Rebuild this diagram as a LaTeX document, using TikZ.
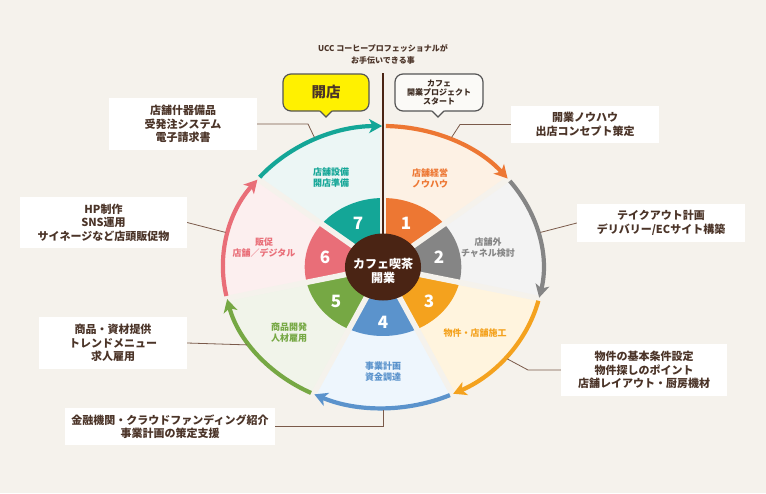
\documentclass[tikz,border=0pt]{standalone}
\usepackage{fontspec}
\setmainfont{Noto Sans CJK JP}
\usetikzlibrary{arrows.meta}
\definecolor{bg}{HTML}{F5F2EC}
\definecolor{txt}{HTML}{4B3428}
\definecolor{conn}{HTML}{7A5A4A}
\definecolor{cbrown}{HTML}{4A2414}
\definecolor{c1}{HTML}{ED7733}
\definecolor{c2}{HTML}{858585}
\definecolor{c3}{HTML}{F4A21E}
\definecolor{c4}{HTML}{5B93CC}
\definecolor{c5}{HTML}{76A844}
\definecolor{c6}{HTML}{E96E78}
\definecolor{c7}{HTML}{14A697}
\definecolor{l1}{HTML}{FDF1E4}
\definecolor{l2}{HTML}{F3F3F3}
\definecolor{l3}{HTML}{FFF4DE}
\definecolor{l4}{HTML}{EEF6FD}
\definecolor{l5}{HTML}{F1F4EA}
\definecolor{l6}{HTML}{FCEFEF}
\definecolor{l7}{HTML}{ECF6F5}
\definecolor{bubyel}{HTML}{FFF100}
\definecolor{bubline}{HTML}{555555}
\tikzset{
  box/.style={fill=white, inner sep=0pt, align=center, text=txt,
    font=\bfseries\fontsize{11}{13.5}\selectfont},
  wlabel/.style={align=center, font=\bfseries\fontsize{9}{11}\selectfont},
  numlabel/.style={text=white, font=\bfseries\fontsize{17}{17}\selectfont},
  connline/.style={draw=conn, line width=0.8pt},
  bubbleline/.style={draw=bubline, line width=1.2pt},
}
\begin{document}
\begin{tikzpicture}[x=1pt,y=-1pt]
\fill[bg] (0,0) rectangle (766,493);
\useasboundingbox (0,0) rectangle (766,493);

% wheel
\begin{scope}[shift={(383,267)}, x=1.135pt, y=1pt]
  \foreach \i/\lc/\dc in {1/l1/c1,2/l2/c2,3/l3/c3,4/l4/c4,5/l5/c5,6/l6/c6,7/l7/c7}{
    \pgfmathsetmacro\as{90-(\i-1)*360/7}
    \pgfmathsetmacro\ae{90-\i*360/7}
    \fill[\lc] (0,0) -- (\as:141) arc[start angle=\as, end angle=\ae, radius=141] -- cycle;
    \fill[\dc] (0,0) -- (\as:69) arc[start angle=\as, end angle=\ae, radius=69] -- cycle;
  }
  \foreach \k in {0,...,6}{
    \pgfmathsetmacro\ag{90-\k*360/7}
    \draw[bg, line width=5.5pt] (0,0) -- (\ag:141);
  }
  \foreach \i/\dc in {1/c1,2/c2,3/c3,4/c4,5/c5,6/c6,7/c7}{
    \pgfmathsetmacro\as{90-(\i-1)*360/7-1}
    \pgfmathsetmacro\ae{90-\i*360/7+0.3}
    \draw[\dc, line width=4.2pt, -{Stealth[length=13pt,width=14pt,inset=3.5pt]}]
      (\as:141) arc[start angle=\as, end angle=\ae, radius=141];
  }
  \coordinate (k7) at (115:143);
  \coordinate (k6) at (166:143);
  \coordinate (k5) at (-147:143);
  \coordinate (k4) at (-90:143);
  \coordinate (k1) at (65:143);
  \coordinate (k2) at (14:143);
  \coordinate (k3) at (-40:143);
\end{scope}

\coordinate (ltop) at (383,73);
\coordinate (lbot) at (383,250);
\draw[cbrown, line width=2pt] (ltop) -- (lbot);

\begin{scope}[shift={(383,267)}, x=1.135pt, y=1pt]
  \fill[cbrown] (0,0) circle[radius=33.5];
\end{scope}
\node[text=white, align=center, font=\bfseries\fontsize{12}{13.5}\selectfont] (ctr) at (383,271) {カフェ喫茶\\開業};

% numbers
\node[numlabel] (n1) at (406,223) {1};
\node[numlabel] (n2) at (439,257) {2};
\node[numlabel] (n3) at (429,301) {3};
\node[numlabel] (n4) at (383,322) {4};
\node[numlabel] (n5) at (336,301) {5};
\node[numlabel] (n6) at (325,257) {6};
\node[numlabel] (n7) at (358,223) {7};

% wedge labels
\node[wlabel, text=c1] (w1) at (430,178) {店舗経営\\ノウハウ};
\node[wlabel, text=c2] (w2) at (488,248) {店舗外\\チャネル検討};
\node[wlabel, text=c3] (w3) at (475,333) {物件・店舗施工};
\node[wlabel, text=c4] (w4) at (383,372) {事業計画\\資金調達};
\node[wlabel, text=c5] (w5) at (289,333) {商品開発\\人材雇用};
\node[wlabel, text=c6] (w6) at (264,248) {販促\\店舗／デジタル};
\node[wlabel, text=c7] (w7) at (331,178) {店舗設備\\開店準備};

% boxes
\node[box, minimum width=148pt, minimum height=52pt] (b1) at (183,124) {店舗什器備品\\受発注システム\\電子請求書};
\node[box, minimum width=167pt, minimum height=51pt] (b2) at (103.5,222.5) {HP制作\\SNS運用\\サイネージなど店頭販促物};
\node[box, minimum width=148pt, minimum height=52pt] (b3) at (113,343) {商品・資材提供\\トレンドメニュー\\求人雇用};
\node[box, minimum width=210pt, minimum height=37pt] (b4) at (170,426.5) {金融機関・クラウドファンディング紹介\\事業計画の策定支援};
\node[box, minimum width=148pt, minimum height=37pt] (b5) at (585,124.5) {開業ノウハウ\\出店コンセプト策定};
\node[box, minimum width=168pt, minimum height=38pt] (b6) at (661,223) {テイクアウト計画\\デリバリー/ECサイト構築};
\node[box, minimum width=166pt, minimum height=52pt] (b7) at (644,370) {物件の基本条件設定\\物件探しのポイント\\店舗レイアウト・厨房機材};

% connectors
\draw[connline] (b1.east) -- (308,124) -- (k7);
\draw[connline] (b2.east) -- (k6);
\draw[connline] (b3.east) -- (k5);
\draw[connline] (b4.east) -- (k4 |- b4.east) -- (k4);
\draw[connline] (b5.west) -- (460,124.5) -- (k1);
\draw[connline] (b6.west) -- (k2);
\draw[connline] (b7.west) -- (528,370) -- (k3);

% top text
\node[text=txt, align=center, font=\bfseries\fontsize{8}{12}\selectfont] (top) at (383,54) {UCC コーヒープロフェッショナルが\\お手伝いできる事};

% yellow bubble
\draw[bubbleline, fill=bubyel, rounded corners=8pt] (283,74) rectangle (369,111);
\fill[bubyel] (319.5,110) -- (326,117) -- (332.5,110) -- cycle;
\draw[bubbleline, line join=miter] (320,111) -- (326,117) -- (332,111);
\node[text=txt, font=\bfseries\fontsize{14.5}{15}\selectfont] (open) at (326,92.5) {開店};

% white bubble
\draw[bubbleline, fill=bg!40!white, rounded corners=8pt] (395,74) rectangle (483,111);
\fill[bg!40!white] (431.5,110) -- (438,117) -- (444.5,110) -- cycle;
\draw[bubbleline, line join=miter] (432,111) -- (438,117) -- (444,111);
\node[text=txt!80!black, align=center, font=\bfseries\fontsize{8}{9.3}\selectfont] (start) at (439,92.5) {カフェ\\開業プロジェクト\\スタート};
\end{tikzpicture}
\end{document}
